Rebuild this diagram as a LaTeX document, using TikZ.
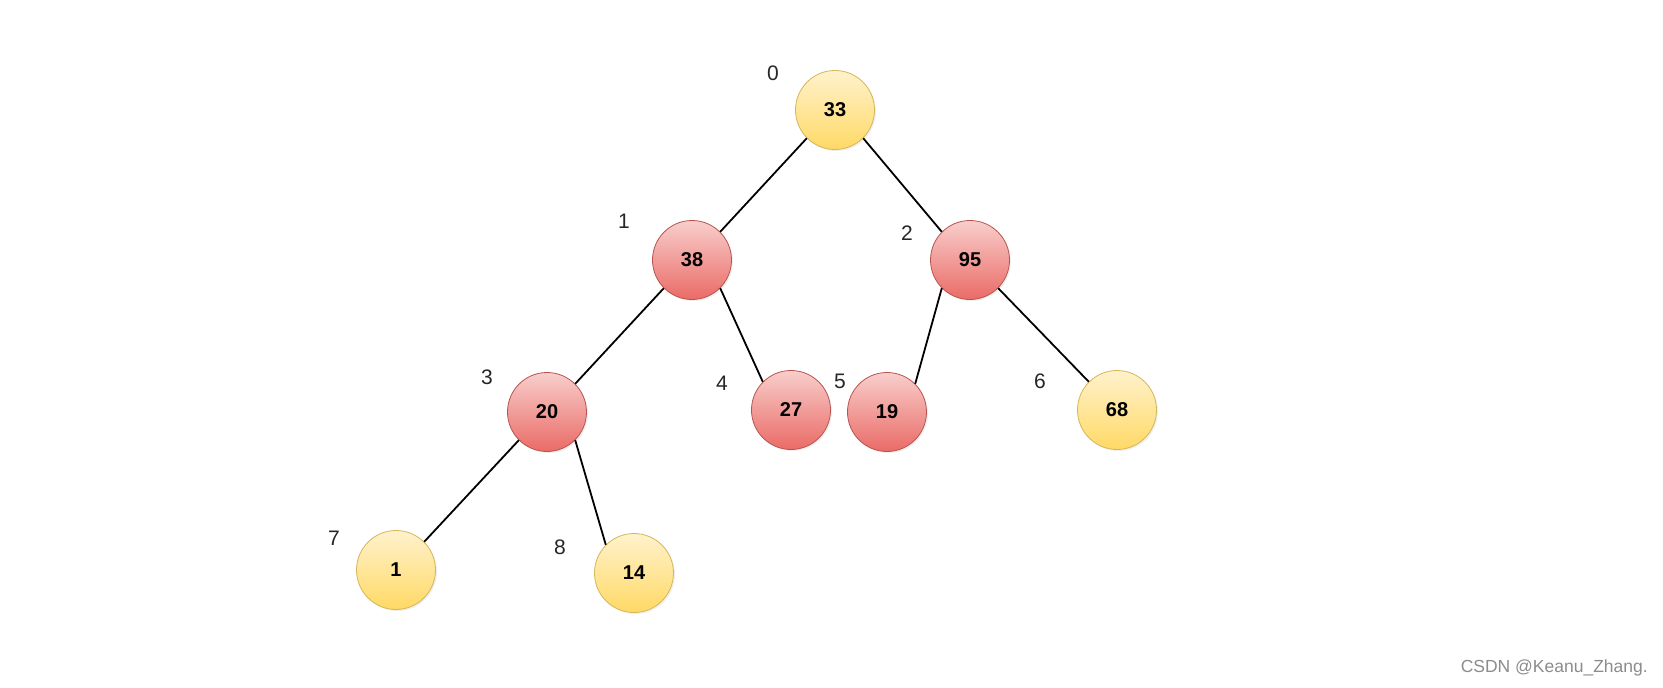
\documentclass[tikz,border=0pt]{standalone}
\usepackage{fontspec}
\setmainfont{Liberation Sans}
\usetikzlibrary{shadows}
\definecolor{keptTop}{HTML}{FFF2CC}
\definecolor{keptBot}{HTML}{FFD966}
\definecolor{keptLine}{HTML}{D6B656}
\definecolor{movedTop}{HTML}{F8CECC}
\definecolor{movedBot}{HTML}{EA6B66}
\definecolor{movedLine}{HTML}{B85450}
\tikzset{x=1pt, y=-1pt, % one unit is one pixel of the reference, y grows downwards
key/.style={circle, minimum size=79pt, inner sep=0pt, line width=0.8pt,
  drop shadow={opacity=0.12, shadow xshift=1.5pt, shadow yshift=-1.5pt},
  font=\fontsize{20}{24}\selectfont\bfseries}, % common look of every heap key
kept/.style={key, draw=keptLine, top color=keptTop, bottom color=keptBot}, % yellow keys
moved/.style={key, draw=movedLine, top color=movedTop, bottom color=movedBot}, % red keys
index/.style={font=\fontsize{21}{25}\selectfont, text=black!85}, % array positions
link/.style={line width=1.8pt, black}, % tree edges
}
\begin{document}
\begin{tikzpicture}
\useasboundingbox[fill=white] (0,0) rectangle (1663,688);
\node[kept] (k0) at (835,110) {33};
\node[moved] (k1) at (692,260) {38};
\node[moved] (k2) at (970,260) {95};
\node[moved] (k3) at (547,412) {20};
\node[moved] (k4) at (791,410) {27};
\node[moved] (k5) at (887,412) {19};
\node[kept] (k6) at (1117,410) {68};
\node[kept] (k7) at (396,570) {1};
\node[kept] (k8) at (634,573) {14};
% left children leave the parent at 225, right children at -45
\draw[link] (k0.225) -- (k1.45) (k0.-45) -- (k2.135)
(k1.225) -- (k3.45) (k1.-45) -- (k4.135)
(k2.225) -- (k5.45) (k2.-45) -- (k6.135)
(k3.225) -- (k7.45) (k3.-45) -- (k8.135);
\node[index] (i0) at (773,73) {0};
\node[index] (i1) at (624,221) {1};
\node[index] (i2) at (907,233) {2};
\node[index] (i3) at (487,377) {3};
\node[index] (i4) at (722,383) {4};
\node[index] (i5) at (840,381) {5};
\node[index] (i6) at (1040,381) {6};
\node[index] (i7) at (334,538) {7};
\node[index] (i8) at (560,547) {8};
\node[anchor=east, inner sep=0pt, text=black!45, font=\fontsize{17.5}{21}\selectfont] (mark) at (1648,668) {CSDN @Keanu\_Zhang.};
\end{tikzpicture}
\end{document}
